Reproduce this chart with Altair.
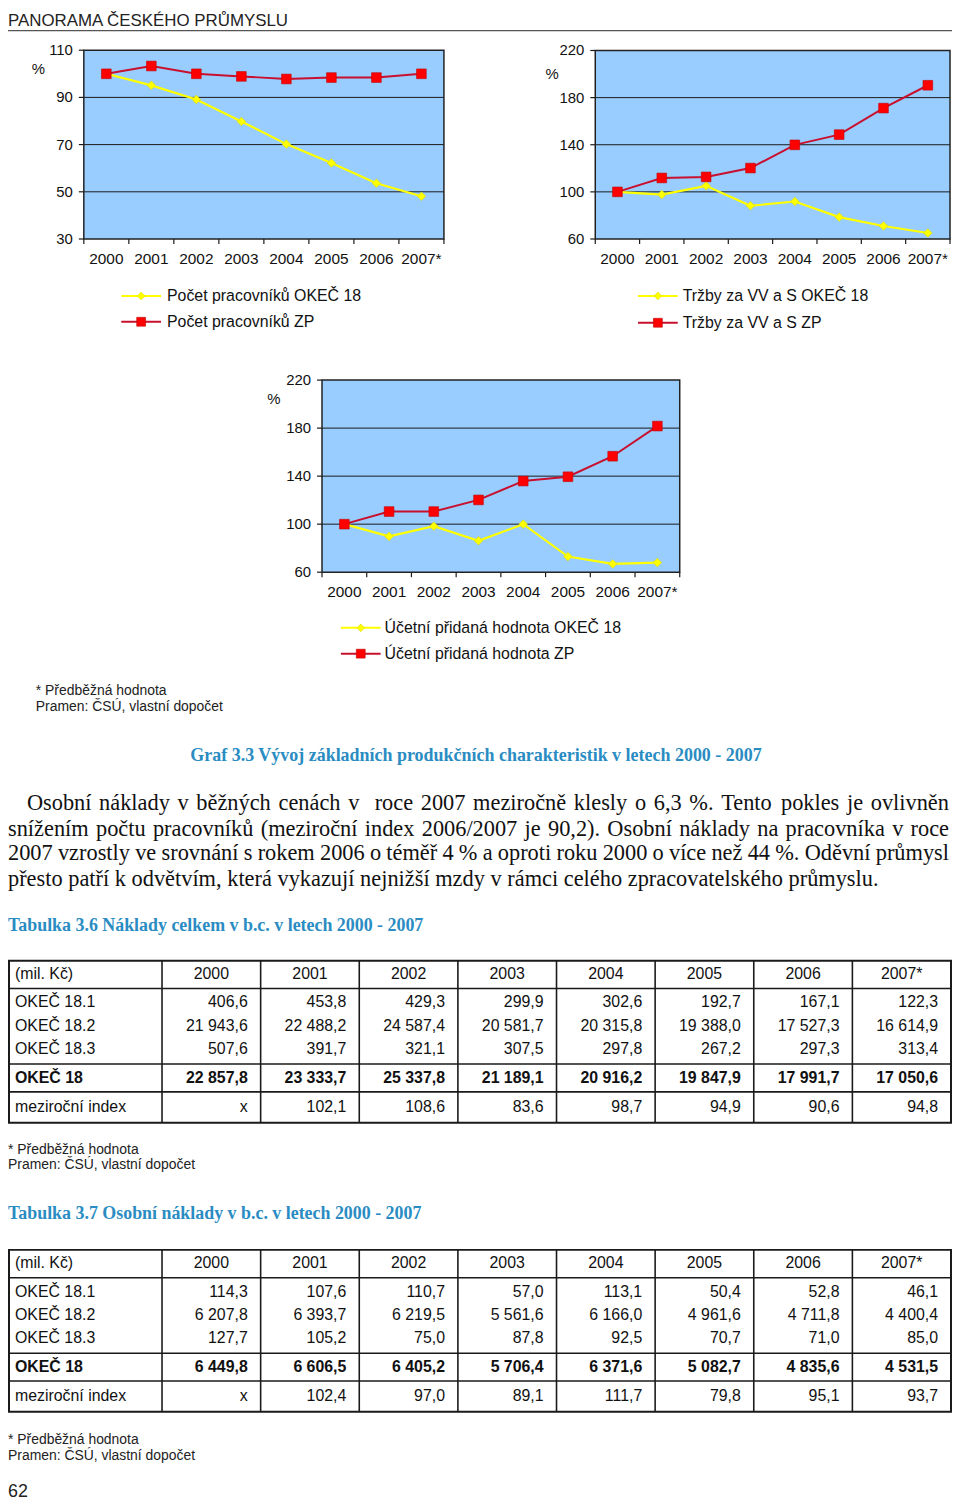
import unicodedata
import altair as alt
import pandas as pd

# ---------------- DATA ----------------
years = ["2000", "2001", "2002", "2003", "2004", "2005", "2006", "2007*"]

workers_okec18 = [100.0, 95.1, 89.1, 79.8, 70.2, 62.2, 53.6, 48.1]
workers_zp = [100.0, 103.3, 100.0, 98.9, 97.8, 98.4, 98.4, 100.0]
sales_okec18 = [100.0, 97.7, 105.1, 88.2, 91.8, 78.6, 71.0, 65.1]
sales_zp = [100.0, 111.8, 112.7, 120.2, 139.9, 148.6, 171.1, 190.5]
value_added_okec18 = [100.0, 89.8, 98.3, 86.2, 100.0, 73.0, 66.9, 68.0]
value_added_zp = [100.0, 110.5, 110.5, 120.2, 135.9, 139.5, 156.6, 181.7]

ticks_workers = [30, 50, 70, 90, 110]
ticks_money = [60, 100, 140, 180, 220]

legend_workers = ["Počet pracovníků OKEČ 18", "Počet pracovníků ZP"]
legend_sales = ["Tržby za VV a S OKEČ 18", "Tržby za VV a S ZP"]
legend_value = ["Účetní přidaná hodnota OKEČ 18", "Účetní přidaná hodnota ZP"]

page_header = "PANORAMA ČESKÉHO PRŮMYSLU"
note_lines = ["* Předběžná hodnota", "Pramen: ČSÚ, vlastní dopočet"]
graph_caption = "Graf 3.3 Vývoj základních produkčních charakteristik v letech 2000 - 2007"
paragraph_lines = [
    "Osobní náklady v běžných cenách v  roce 2007 meziročně klesly o 6,3 %. Tento pokles je ovlivněn",
    "snížením počtu pracovníků (meziroční index 2006/2007 je 90,2). Osobní náklady na pracovníka v roce",
    "2007 vzrostly ve srovnání s rokem 2006 o téměř 4 % a oproti roku 2000 o více než 44 %. Oděvní průmysl",
    "přesto patří k odvětvím, která vykazují nejnižší mzdy v rámci celého zpracovatelského průmyslu.",
]
table1_title = "Tabulka 3.6 Náklady celkem v b.c. v letech 2000 - 2007"
table2_title = "Tabulka 3.7 Osobní náklady v b.c. v letech 2000 - 2007"
table_corner = "(mil. Kč)"
row_labels = ["OKEČ 18.1", "OKEČ 18.2", "OKEČ 18.3", "OKEČ 18", "meziroční index"]

costs_181 = [406.6, 453.8, 429.3, 299.9, 302.6, 192.7, 167.1, 122.3]
costs_182 = [21943.6, 22488.2, 24587.4, 20581.7, 20315.8, 19388.0, 17527.3, 16614.9]
costs_183 = [507.6, 391.7, 321.1, 307.5, 297.8, 267.2, 297.3, 313.4]
costs_18 = [22857.8, 23333.7, 25337.8, 21189.1, 20916.2, 19847.9, 17991.7, 17050.6]
costs_index = [None, 102.1, 108.6, 83.6, 98.7, 94.9, 90.6, 94.8]

personal_181 = [114.3, 107.6, 110.7, 57.0, 113.1, 50.4, 52.8, 46.1]
personal_182 = [6207.8, 6393.7, 6219.5, 5561.6, 6166.0, 4961.6, 4711.8, 4400.4]
personal_183 = [127.7, 105.2, 75.0, 87.8, 92.5, 70.7, 71.0, 85.0]
personal_18 = [6449.8, 6606.5, 6405.2, 5706.4, 6371.6, 5082.7, 4835.6, 4531.5]
personal_index = [None, 102.4, 97.0, 89.1, 111.7, 79.8, 95.1, 93.7]

page_number = "62"

# ---------------- STYLE / LAYOUT ----------------
W, H = 950, 1500
SANS = "Liberation Sans"
SERIF = "Liberation Serif"
INK = "#111111"
TEAL = "#2a8cc2"
RED_LINE = "#c8102e"
RED_MARK = "#ff0000"
YEL = "#ffff00"
PLOT_BG = "#99ccff"

TIMES = {' ': 250, 'a': 444, 'b': 500, 'c': 444, 'd': 500, 'e': 444, 'f': 333, 'g': 500,
         'h': 500, 'i': 278, 'j': 278, 'k': 500, 'l': 278, 'm': 778, 'n': 500, 'o': 500,
         'p': 500, 'q': 500, 'r': 333, 's': 389, 't': 278, 'u': 500, 'v': 500, 'w': 722,
         'x': 500, 'y': 500, 'z': 444, 'O': 722, 'T': 611, 'A': 722, 'N': 722, 'V': 722,
         'G': 722, ',': 250, '.': 250, '%': 833, '(': 333, ')': 333, '/': 278, '-': 333}
TIMES_B = {' ': 250, 'a': 500, 'b': 556, 'c': 444, 'd': 556, 'e': 444, 'f': 333, 'g': 500,
           'h': 556, 'i': 278, 'j': 333, 'k': 556, 'l': 278, 'm': 833, 'n': 556, 'o': 500,
           'p': 556, 'q': 556, 'r': 444, 's': 389, 't': 333, 'u': 556, 'v': 500, 'w': 722,
           'x': 500, 'y': 500, 'z': 444, 'G': 778, 'V': 722, 'T': 667, 'N': 722, 'O': 778,
           '.': 250, '-': 333}


def em(s, table):
    tot = 0
    for ch in s:
        if ch.isdigit():
            tot += 500
            continue
        if ch not in table:
            ch = unicodedata.normalize("NFD", ch)[0]
        tot += table.get(ch, 500)
    return tot / 1000.0


def fmt(v):
    if v is None:
        return "x"
    s = f"{v:,.1f}"
    return s.replace(",", " ").replace(".", ",")


DUMMY = pd.DataFrame({"a": [0]})


def txt(rows, size, font=SANS, weight="normal", color=INK, align="left", baseline="middle"):
    df = pd.DataFrame(rows, columns=["px", "py", "t"])
    return alt.Chart(df).mark_text(font=font, fontSize=size, fontWeight=weight, color=color,
                                   align=align, baseline=baseline).encode(
        x=alt.X("px:Q", scale=None, axis=None),
        y=alt.Y("py:Q", scale=None, axis=None),
        text="t:N")


def panel(box, domain, ticks, okec, zp):
    L, R, T, B = box
    xs = alt.Scale(domain=[-0.5, 7.5], range=[L, R], nice=False, zero=False)
    ys = alt.Scale(domain=list(domain), range=[B, T], nice=False, zero=False)

    def X(f):
        return alt.X(f, type="quantitative", scale=xs, axis=None)

    def Y(f):
        return alt.Y(f, type="quantitative", scale=ys, axis=None)

    step = (R - L) / 8.0
    unit = (domain[1] - domain[0]) / (B - T)
    out = []
    box_df = pd.DataFrame({"x0": [-0.5], "x1": [7.5], "y0": [domain[0]], "y1": [domain[1]]})
    out.append(alt.Chart(box_df).mark_rect(color=PLOT_BG).encode(
        x=X("x0"), x2="x1:Q", y=Y("y0"), y2="y1:Q"))
    grid = pd.DataFrame({"v": ticks[1:-1]})
    grid["x0"] = -0.5
    grid["x1"] = 7.5
    out.append(alt.Chart(grid).mark_rule(color="#1a1a1a", strokeWidth=1).encode(
        x=X("x0"), x2="x1:Q", y=Y("v")))
    yt = pd.DataFrame({"v": ticks})
    yt["x0"] = -0.5 - 5.0 / step
    yt["x1"] = -0.5
    out.append(alt.Chart(yt).mark_rule(color="#1a1a1a", strokeWidth=1.2).encode(
        x=X("x0"), x2="x1:Q", y=Y("v")))
    xt = pd.DataFrame({"b": [i - 0.5 for i in range(9)]})
    xt["y0"] = domain[0]
    xt["y1"] = domain[0] - 5.0 * unit
    out.append(alt.Chart(xt).mark_rule(color="#1a1a1a", strokeWidth=1.2).encode(
        x=X("b"), y=Y("y0"), y2="y1:Q"))
    out.append(alt.Chart(box_df).mark_rect(fillOpacity=0, stroke="#222222", strokeWidth=1.5).encode(
        x=X("x0"), x2="x1:Q", y=Y("y0"), y2="y1:Q"))
    yl = pd.DataFrame({"v": ticks, "t": [str(t) for t in ticks]})
    yl["x0"] = -0.5
    out.append(alt.Chart(yl).mark_text(font=SANS, fontSize=15, align="right", baseline="middle",
                                       dx=-11, color=INK).encode(x=X("x0"), y=Y("v"), text="t:N"))
    xl = pd.DataFrame({"i": list(range(8)), "t": years})
    xl["y0"] = domain[0]
    out.append(alt.Chart(xl).mark_text(font=SANS, fontSize=15.5, align="center", baseline="middle",
                                       dy=20, color=INK).encode(x=X("i"), y=Y("y0"), text="t:N"))
    s1 = pd.DataFrame({"i": list(range(8)), "v": okec})
    s2 = pd.DataFrame({"i": list(range(8)), "v": zp})
    out.append(alt.Chart(s1).mark_line(color=YEL, strokeWidth=2.2).encode(x=X("i"), y=Y("v")))
    out.append(alt.Chart(s1).mark_point(shape="diamond", filled=True, size=75, fill=YEL,
                                        stroke="#d8d800", strokeWidth=0.6, opacity=1).encode(
        x=X("i"), y=Y("v")))
    out.append(alt.Chart(s2).mark_line(color=RED_LINE, strokeWidth=2).encode(x=X("i"), y=Y("v")))
    out.append(alt.Chart(s2).mark_point(shape="square", filled=True, size=95, fill=RED_MARK,
                                        stroke="#c00000", strokeWidth=0.6, opacity=1).encode(
        x=X("i"), y=Y("v")))
    return out


def legend(x0, x1, xm, xt, ys, labels):
    out = []
    specs = [(YEL, "diamond", YEL, "#d8d800", 60), (RED_LINE, "square", RED_MARK, "#c00000", 80)]
    for (lc, shape, fill, stroke, size), y in zip(specs, ys):
        out.append(alt.Chart(DUMMY).mark_rule(color=lc, strokeWidth=2).encode(
            x=alt.value(x0), x2=alt.value(x1), y=alt.value(y)))
        out.append(alt.Chart(DUMMY).mark_point(shape=shape, filled=True, size=size, fill=fill,
                                               stroke=stroke, strokeWidth=0.6, opacity=1).encode(
            x=alt.value(xm), y=alt.value(y)))
    out.append(txt([(xt, ys[0], labels[0]), (xt, ys[1], labels[1])], 16))
    return out


def table(top, rows, idx):
    out = []
    xs = alt.Scale(domain=[0, 8], range=[155, 949], nice=False, zero=False)
    span = (949 - 155) / 8.0
    c_left = (1 - 155) / span
    rel = [13.5, 42, 66, 89, 118, 147]
    # lines
    hl = pd.DataFrame({"py": [top + r for r in (28, 104, 132)]})
    hl["c0"] = c_left
    hl["c1"] = 8
    out.append(alt.Chart(hl).mark_rule(color="#1a1a1a", strokeWidth=1.6).encode(
        x=alt.X("c0:Q", scale=xs, axis=None), x2="c1:Q", y=alt.Y("py:Q", scale=None, axis=None)))
    vl = pd.DataFrame({"c": list(range(0, 8))})
    vl["y0"] = top
    vl["y1"] = top + 163
    out.append(alt.Chart(vl).mark_rule(color="#1a1a1a", strokeWidth=1.6).encode(
        x=alt.X("c:Q", scale=xs, axis=None), y=alt.Y("y0:Q", scale=None, axis=None), y2="y1:Q"))
    frame = pd.DataFrame({"c0": [c_left], "c1": [8], "y0": [top], "y1": [top + 163]})
    out.append(alt.Chart(frame).mark_rect(fillOpacity=0, stroke="#1a1a1a", strokeWidth=2).encode(
        x=alt.X("c0:Q", scale=xs, axis=None), x2="c1:Q",
        y=alt.Y("y0:Q", scale=None, axis=None), y2="y1:Q"))
    # header
    hdr = pd.DataFrame({"c": [k + 0.5 for k in range(8)], "t": years})
    hdr["py"] = top + rel[0]
    out.append(alt.Chart(hdr).mark_text(font=SANS, fontSize=16, align="center", baseline="middle",
                                        color=INK).encode(
        x=alt.X("c:Q", scale=xs, axis=None), y=alt.Y("py:Q", scale=None, axis=None), text="t:N"))
    # row labels
    lab_rows = [(7, top + rel[0], table_corner)]
    for r in (0, 1, 2):
        lab_rows.append((7, top + rel[r + 1], row_labels[r]))
    lab_rows.append((7, top + rel[5], row_labels[4]))
    out.append(txt(lab_rows, 16))
    out.append(txt([(7, top + rel[4], row_labels[3])], 16, weight="bold"))
    # values
    body = []
    for r, vals in enumerate(rows[:3]):
        for k, v in enumerate(vals):
            body.append({"c": k + 1, "py": top + rel[r + 1], "t": fmt(v)})
    for k, v in enumerate(idx):
        body.append({"c": k + 1, "py": top + rel[5], "t": fmt(v)})
    bdf = pd.DataFrame(body)
    out.append(alt.Chart(bdf).mark_text(font=SANS, fontSize=16, align="right", baseline="middle",
                                        dx=-13, color=INK).encode(
        x=alt.X("c:Q", scale=xs, axis=None), y=alt.Y("py:Q", scale=None, axis=None), text="t:N"))
    tot = pd.DataFrame({"c": [k + 1 for k in range(8)], "t": [fmt(v) for v in rows[3]]})
    tot["py"] = top + rel[4]
    out.append(alt.Chart(tot).mark_text(font=SANS, fontSize=16, fontWeight="bold", align="right",
                                        baseline="middle", dx=-13, color=INK).encode(
        x=alt.X("c:Q", scale=xs, axis=None), y=alt.Y("py:Q", scale=None, axis=None), text="t:N"))
    return out


layers = []

# page header
layers.append(txt([(0, 8, page_header)], 17, color="#222222"))
layers.append(alt.Chart(DUMMY).mark_rule(color="#555555", strokeWidth=1.2).encode(
    x=alt.value(0), x2=alt.value(W), y=alt.value(18)))

# charts
layers += panel((76.3, 438.7, 37.7, 227.7), (30, 110), ticks_workers, workers_okec18, workers_zp)
layers += panel((591, 948, 38, 227.7), (60, 220), ticks_money, sales_okec18, sales_zp)
layers += panel((316, 676, 369.7, 563), (60, 220), ticks_money, value_added_okec18, value_added_zp)
layers.append(txt([(24, 57, "%"), (541, 62, "%"), (261, 389, "%")], 15))

layers += legend(114, 154, 134, 160, (285, 311), legend_workers)
layers += legend(634, 674, 654, 679, (285, 312), legend_sales)
layers += legend(335, 375, 355, 379, (619, 645), legend_value)

# footnote under charts
layers.append(txt([(28, 683, note_lines[0]), (28, 699, note_lines[1])], 14, color="#222222"))

# caption
cap_size = 576 / em(graph_caption, TIMES_B)
layers.append(txt([(471, 748, graph_caption)], cap_size, font=SERIF, weight="bold",
                  color=TEAL, align="center"))

# paragraph (justified word placement)
para_size = 22.5
para_x0 = [19, 0, 0, 0]
para_x1 = 947
para_y = [795, 821, 846, 872]
words = []
for k, line in enumerate(paragraph_lines):
    toks = line.split(" ")
    widths = [em(t, TIMES) * para_size for t in toks]
    if k < len(paragraph_lines) - 1:
        gap = (para_x1 - para_x0[k] - sum(widths)) / (len(toks) - 1)
    else:
        gap = 0.25 * para_size
    x = para_x0[k]
    for t, wd in zip(toks, widths):
        if t:
            words.append((x, para_y[k], t))
        x += wd + gap
layers.append(txt(words, para_size, font=SERIF, color="#111111"))

# tables
t_size1 = 420 / em(table1_title, TIMES_B)
t_size2 = 418 / em(table2_title, TIMES_B)
layers.append(txt([(0, 919, table1_title)], t_size1, font=SERIF, weight="bold", color=TEAL))
layers += table(954, [costs_181, costs_182, costs_183, costs_18], costs_index)
layers.append(txt([(0, 1145, note_lines[0]), (0, 1160, note_lines[1])], 14, color="#222222"))

layers.append(txt([(0, 1209, table2_title)], t_size2, font=SERIF, weight="bold", color=TEAL))
layers += table(1245, [personal_181, personal_182, personal_183, personal_18], personal_index)
layers.append(txt([(0, 1436, note_lines[0]), (0, 1452, note_lines[1])], 14, color="#222222"))

layers.append(txt([(0, 1489, page_number)], 18, color="#222222"))

chart = alt.layer(*layers).resolve_scale(x="independent", y="independent").properties(
    width=W, height=H, autosize=alt.AutoSizeParams(type="none"), padding=0,
    background="white").configure_view(strokeWidth=0)

chart.save("out.html", embed_options={"renderer": "svg", "actions": False})
